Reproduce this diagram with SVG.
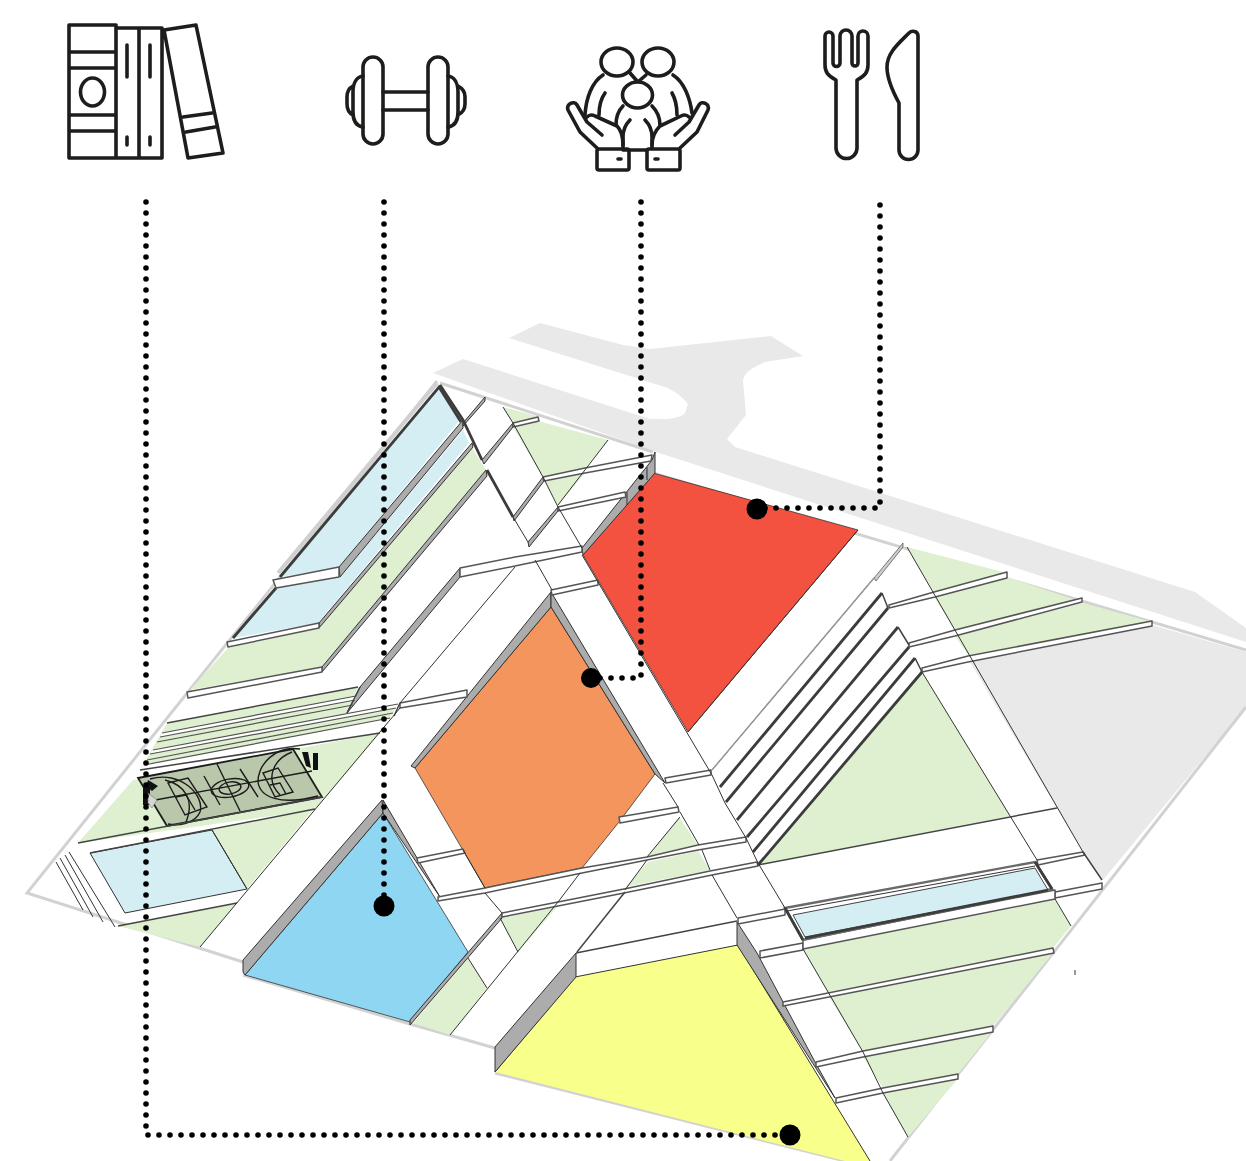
<svg xmlns="http://www.w3.org/2000/svg" width="1246" height="1161" viewBox="0 0 1246 1161">
<style>
.road{fill:#e9e9e9}
.edge{fill:none;stroke:#d2d2d2;stroke-width:3}
.g{fill:#def0d0}
.b{fill:#d5eef4}
.wall{fill:#acacac;stroke:#333;stroke-width:1;stroke-linejoin:round}
.curb{fill:#fff;stroke:#555;stroke-width:1.5;stroke-linejoin:round}
.thin{fill:none;stroke:#333;stroke-width:1}
.mid{fill:none;stroke:#444;stroke-width:1.5}
.thick{fill:none;stroke:#3c3c3c;stroke-width:2.8}
.ct{fill:none;stroke:#1c1c1c;stroke-width:1.4}
.ic{fill:none;stroke:#1d1d1b;stroke-width:3.6;stroke-linejoin:round;stroke-linecap:round}
.dots{fill:none;stroke:#000;stroke-width:5.6;stroke-linecap:round;stroke-dasharray:0 11}
</style>
<rect width="1246" height="1161" fill="#fff"/>
<g id="site">
<path class="road" d="M509,338L540,323L623,345L650,349L771,336L803,356L765,362Q750,368 745,375L743,380L746,415L727,439L735,447L1195,592L1246,628V642L656,452L433,373L463,359L650,419L668,419Q682,417 685,413L688,404Q680,394 668,388Z"/>
<path fill="#fff" d="M27,893L437,383L653,456L1246,650V707L890,1161H845L495,1073Z"/>
<path class="road" d="M970,662L1152,625L1246,652V707L1103,880L1083,852Z"/>
<path class="edge" d="M437,381L27,893L243,962M243,975L410,1024L495,1048M495,1073L845,1161M890,1161L1246,707M440,383L653,452M653,473L1246,650"/>
<!-- greens -->
<path class="g" d="M907,547L1007,573L934,592ZM934,597L1007,577L1082,602L955,630ZM955,636L1083,603L1152,622L968,655ZM922,672L1010,816L758,865ZM503,407L540,417L513,423ZM513,427L538,421L608,440L585,468L543,477ZM545,481L585,473L558,505ZM190,690L228,648L319,628L472,448L486,470L322,667ZM133,780L380,733L315,810L78,843ZM282,816L313,810L247,889L212,830ZM118,926L237,903L200,947ZM500,918L557,907L518,952ZM468,958L487,988L450,1035L413,1023ZM679,817L698,845L647,857ZM648,862L698,851L710,870L625,887ZM803,949L1055,900L1071,926L1053,948L828,992ZM829,997L1053,953L993,1026L863,1051ZM863,1057L992,1032L958,1074L883,1088ZM883,1093L957,1080L908,1137Z"/>
<path class="g" d="M167,723L358,687L347,713L398,704L382,732L140,770Z"/>
<!-- colour lots -->
<path fill="#f45240" stroke="#333" stroke-width=".8" d="M653,473L858,530L688,732L583,555Z"/>
<path fill="#f3955c" stroke="#333" stroke-width=".8" d="M551,607L655,774L619,822L582,868L485,888L415,768Z"/>
<path fill="#8fd6f3" stroke="#333" stroke-width=".8" d="M245,975L383,813L468,952L410,1022Z"/>
<path fill="#f8ff8a" d="M495,1072L575,977L738,945L870,1161H845Z"/>
<path class="thin" d="M738,945L870,1161M495,1072L575,977L738,945"/>
<!-- pools -->
<path d="M437,383L278,573" fill="none" stroke="#d0d0d0" stroke-width="4"/>
<path class="b" d="M439,387L459,421L339,567L280,577ZM276,588L340,577L463,430L469,443L318,623L233,638ZM90,853L212,830L247,889L125,913Z"/>
<path class="thin" d="M90,853L212,830L247,889L125,913ZM212,830L247,889"/>
<path class="thick" d="M280,577L439,387L461,422M276,588L233,638"/>
<!-- walls -->
<path class="wall" d="M339,567L463,420V428L340,577Z"/>
<path class="wall" d="M319,623L472,443L473,447L319,628Z"/>
<path class="wall" d="M322,667L486,470L487,476L322,672Z"/>
<path class="wall" d="M360,687L460,568V577L347,713Z"/>
<path class="wall" d="M582,548L652,460L655,452V473L583,555Z"/>
<path class="thin" d="M627,492V505M647,467V480"/>
<path class="wall" d="M551,592L411,766L415,768L551,607Z"/>
<path class="wall" d="M551,592L665,783L655,774L551,607Z"/>
<path class="wall" d="M243,960L382,800L383,813L245,975L243,972Z"/>
<path class="wall" d="M383,800L417,858L440,897L383,813Z"/>
<path class="wall" d="M495,1047L576,953V977L495,1072Z"/>
<path class="wall" d="M737,922L757,953L782,1000L815,1062L835,1098L737,945Z"/>
<path class="wall" d="M502,913L410,1020V1025L502,918Z"/>
<path class="wall" d="M874,578L903,543V547L876,581Z" style="fill:#ccc;stroke-width:.6"/>
<path class="wall" d="M485,397L463,423L463,426L485,401Z"/>
<path class="wall" d="M513,423L482,460L484,464L513,427Z"/>
<path class="wall" d="M543,477L513,517L514,521L544,481Z"/>
<path class="wall" d="M558,507L528,542L529,547L558,511Z"/>
<!-- curbs -->
<path class="curb" d="M273,580L339,567V577L276,588Z"/>
<path class="curb" d="M227,642L319,623V628L228,647Z"/>
<path class="curb" d="M187,692L322,667V672L188,698Z"/>
<path class="curb" d="M513,423L538,417L539,421L513,427Z"/>
<path class="curb" d="M543,477L585,468L652,455L651,461L585,473L544,481Z"/>
<path class="curb" d="M558,507L625,492L626,497L558,511Z"/>
<path class="curb" d="M460,568L515,557L582,546V552L515,566L460,577Z"/>
<path class="curb" d="M400,703L467,690V697L400,708Z"/>
<path class="curb" d="M551,590L598,580V585L552,595Z"/>
<path class="curb" d="M665,778L711,770V775L666,783Z"/>
<path class="curb" d="M619,817L678,807L679,812L620,823Z"/>
<path class="curb" d="M417,858L463,849L465,853L418,863Z"/>
<path class="curb" d="M438,897L485,888L582,868L647,857L698,845L746,837V842L698,850L647,860L582,873L485,893L438,901Z"/>
<path class="curb" d="M502,913L558,902L624,889L710,871L757,862L758,866L712,875L624,893L558,906L502,917Z"/>
<path class="curb" d="M889,605L934,592L1007,572V578L935,597L889,608Z"/>
<path class="curb" d="M909,643L955,630L1082,598V602L955,636L909,647Z"/>
<path class="curb" d="M922,668L968,656L1152,621V626L968,662L922,672Z"/>
<path class="curb" d="M738,918L785,909V915L738,924Z"/>
<path class="curb" d="M1037,860L1083,852L1085,855L1038,865Z"/>
<path class="curb" d="M1055,892L1102,883V889L1055,898Z"/>
<path class="curb" d="M760,951L803,943V950L760,958Z"/>
<path class="curb" d="M783,1002L1053,948L1054,953L783,1006Z"/>
<path class="curb" d="M816,1062L863,1051L993,1026V1032L863,1057L816,1067Z"/>
<path class="curb" d="M836,1098L883,1088L958,1074V1079L883,1093L836,1103Z"/>
<path class="curb" d="M803,940L1055,890V899L803,949Z"/>
<!-- central pool -->
<path fill="#fff" stroke="#6a6a6a" stroke-width="2.4" d="M785,908L1035,862L1052,889L803,940Z"/>
<path class="b" stroke="#444" stroke-width="1" d="M793,915L1035,868L1048,890L805,937Z"/>
<path class="thick" d="M785,908L803,940M1035,862L1052,889M805,938L1048,890" stroke-width="2"/>
<path class="thin" d="M787,911L1035,866"/>
<!-- stair stripes lower-left -->
<path fill="#fff" d="M162,733L356,696L355,700L160,737ZM153,750L398,704L396,708L150,754ZM144,765L390,718L382,732L140,770Z"/>
<path fill="none" stroke="#555" stroke-width="1.2" d="M162,733L356,696M160,737L355,700M157,742L353,705M153,750L398,704M150,754L396,708M147,760L393,713M144,765L390,718"/>
<path class="mid" d="M167,723L358,687M140,770L380,733"/>
<path class="mid" d="M360,687L347,713M400,703L394,716"/>
<!-- court -->
<g id="court">
<path fill="#b9c7aa" stroke="#1c1c1c" stroke-width="1.8" d="M138,778L293,749L322,797L167,826Z"/>
<path class="ct" d="M217,764L240,811M204,776L220,805M240,769L258,797M150,801L312,771M168,783L188,778L207,807L185,815ZM176,797L186,795L195,810M263,773L278,768L293,792L275,797ZM270,785L280,783L286,794"/>
<ellipse class="ct" cx="230" cy="788" rx="19" ry="9" transform="rotate(-10 230 788)"/>
<ellipse class="ct" cx="230" cy="788" rx="11" ry="6" transform="rotate(-10 230 788)"/>
<path class="ct" d="M150,779C180,770 205,795 200,812C195,824 178,826 168,824M300,749C275,745 258,765 258,782C260,797 280,806 318,796M165,780C185,785 195,800 186,822M292,752C272,760 265,780 280,795"/>
<path fill="#111" d="M143,787H150V805H143ZM148,780L158,786L152,791L146,786ZM313,753H318V770H313ZM302,752L308,752L311,768L306,766Z"/>
<path fill="#d4d6d2" stroke="#777" stroke-width=".6" d="M148,793L157,800L152,808L148,803Z"/>
</g>
<!-- road lines -->
<path class="mid" d="M78,843L322,797M90,853L315,809M118,926L237,903M758,865L1057,808M576,953L737,921"/>
<path class="thin" d="M56,862L83,910M60,858L93,917M65,855L103,922M69,852L115,927M515,567L400,703M400,708L200,947M907,547L1083,852M922,672L1037,860M582,555L712,775M858,530L688,732M874,578L712,770M663,783L678,807M680,812L699,845M702,850L710,870M712,875L737,918M712,775L725,803L746,838L758,863L785,908M803,949L863,1052L883,1093L908,1137M1055,899L1071,926M463,850L485,888M485,893L502,913M500,918L518,952M468,958L487,988M552,590L535,560M503,407L513,423L543,477L558,507L582,548M608,440L558,505M680,817L647,857M647,860L625,890M580,873L558,902L450,1035"/>
<path class="mid" d="M1083,852L1102,880M625,892L577,952"/>
<path class="thick" d="M440,385L463,420L482,460M487,470L513,517" stroke-width="1.8"/>
<path class="thin" d="M513,517L528,542"/>
<path class="thick" d="M720,787L882,593M726,802L888,608M737,820L898,627M747,837L909,647M753,852L915,658M758,865L922,672" stroke-width="2.2"/>
<path class="mid" d="M882,593L888,608M898,627L909,645M915,658L922,672"/>
<path fill="none" stroke="#999" stroke-width="1.5" d="M712,770L874,578"/>
<path class="thin" d="M1075,970V975"/>
</g>
<g id="icon-books">
<path class="ic" d="M69,25H116V158H69ZM69,52H116M69,68H116M69,115H116M69,131H116M116,28H162V158H116M139,28V158M127,45V77M150,45V77M127,137V145M150,137V145M164,30L196,25L223,153L188,158ZM183,117L212,113M186,132L215,127"/>
<ellipse class="ic" cx="92.500" cy="92" rx="12" ry="14"/>
</g>
<g id="icon-gym">
<rect class="ic" x="363" y="57" width="20" height="87" rx="10"/>
<rect class="ic" x="428" y="57" width="20" height="87" rx="10"/>
<path class="ic" d="M383,92H428M383,110H428M363,76C356,77 353,84 353,92V112C353,120 356,126 363,127M353,86C349,88 347,92 347,97V104C347,110 349,113 353,115M448,76C455,77 458,84 458,92V112C458,120 455,126 448,127M458,86C462,88 465,92 465,97V104C465,110 462,113 458,115"/>
</g>
<g id="icon-family">
<ellipse class="ic" cx="617" cy="62" rx="16" ry="14"/>
<ellipse class="ic" cx="658" cy="62" rx="16" ry="14"/>
<ellipse class="ic" cx="637.500" cy="95" rx="15" ry="13"/>
<path class="ic" d="M603,75C592,82 586,98 585,115M673,75C684,82 690,98 692,113M630,73L637,81M646,75L639,81M605,93C600,100 599,107 599,115M672,93C676,100 677,107 677,115M623,106C618,111 616,118 616,125M652,106C657,111 660,118 660,125M630,120C625,125 623,130 623,137V148M645,120C650,125 652,130 652,137V148M623,150H647"/>
<path class="ic" d="M597,148L580,132L568,110C566,104 574,100 577,105L587,122L602,135M587,117C590,114 593,115 595,116L617,126C621,130 623,135 623,145"/>
<path class="ic" d="M680,148L697,132L708,110C710,104 702,100 699,105L689,122L675,135M689,117C686,114 683,115 681,116L660,126C656,130 652,135 652,145"/>
<rect class="ic" x="597" y="149" width="32" height="21" rx="2"/>
<rect class="ic" x="647" y="149" width="33" height="21" rx="2"/>
<path class="ic" d="M618,159H621M655,159H658"/>
</g>
<g id="icon-food">
<path class="ic" d="M836,80C828,76 825,72 825,65V36A4,4 0 0 1 833,36V63A3.500,3.500 0 0 0 840,63V36A6,6 0 0 1 852,36V63A3,3 0 0 0 858,63V36A5,5 0 0 1 868,36V65C868,72 865,76 857,80V148A10.500,10.500 0 0 1 836,148Z"/>
<path class="ic" d="M918,36C918,31 912,30 909,33C898,44 887,53 887,67C887,80 893,92 899,103V150A9.500,9.500 0 0 0 918,150Z"/>
</g>
<g id="connectors">
<path class="dots" d="M146,202V1135H790"/>
<path class="dots" d="M384,202V906"/>
<path class="dots" d="M641,202V678H591"/>
<path class="dots" d="M880,205V508H757"/>
</g>
<g id="markers" fill="#000">
<circle cx="790" cy="1135" r="10.500"/>
<circle cx="384" cy="906" r="10.500"/>
<circle cx="591" cy="678" r="10"/>
<circle cx="757" cy="509" r="10.500"/>
</g>
</svg>
